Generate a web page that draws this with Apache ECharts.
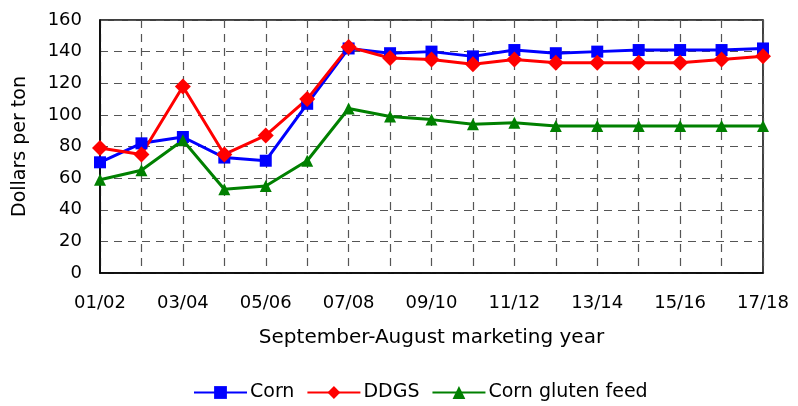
<!DOCTYPE html>
<html>
<head>
<meta charset="utf-8">
<script src="https://cdn.jsdelivr.net/npm/echarts@6/dist/echarts.min.js"></script>
<style>
  html, body { margin: 0; padding: 0; background: #fff; }
  #chart { width: 798px; height: 406px; }
</style>
</head>
<body>
<div id="chart"></div>
<script>
// marketing years
var years = ['01/02','02/03','03/04','04/05','05/06','06/07','07/08','08/09','09/10',
             '10/11','11/12','12/13','13/14','14/15','15/16','16/17','17/18'];
var corn = [70, 82, 86, 73, 71, 107, 142, 139, 140, 137, 141, 139, 140, 141, 141, 141, 142];
var ddgs = [79, 75, 118, 75, 87, 110, 143, 136, 135, 132, 135, 133, 133, 133, 133, 135, 137];
var glutenFeed = [59, 65, 84, 53, 55, 71, 104, 99, 97, 94, 95, 93, 93, 93, 93, 93, 93];

var font = 'DejaVu Sans, Liberation Sans, sans-serif';
var chart = echarts.init(document.getElementById('chart'));

var option = {
    animation: false,
    textStyle: { fontFamily: font },
    grid: {
        left: 100, right: 35, top: 20, bottom: 133,
        show: true, borderColor: '#000', borderWidth: 1.5
    },
    legend: {
        left: 193,
        top: 383,
        padding: 0,
        itemWidth: 53,
        itemHeight: 16,
        itemGap: 12,
        textStyle: { fontFamily: font, fontSize: 19, color: '#000', padding: [0, 0, 0, -2] },
        data: ['Corn', 'DDGS', 'Corn gluten feed']
    },
    xAxis: {
        type: 'category',
        data: years,
        boundaryGap: false,
        name: 'September-August marketing year',
        nameLocation: 'middle',
        nameGap: 55,
        nameTextStyle: { fontFamily: font, fontSize: 20, color: '#000' },
        axisLine: { lineStyle: { color: '#000', width: 1.5 } },
        axisTick: { show: false },
        axisLabel: { interval: 1, fontSize: 18, color: '#000', margin: 21 },
        splitLine: { show: true, interval: 0, lineStyle: { color: '#555', type: [8, 6], width: 1.2 } }
    },
    yAxis: {
        type: 'value',
        min: 0, max: 160, interval: 20,
        name: 'Dollars per ton',
        nameLocation: 'middle',
        nameGap: 70,
        nameTextStyle: { fontFamily: font, fontSize: 19, color: '#000' },
        axisLine: { show: true, lineStyle: { color: '#000', width: 1.5 } },
        axisTick: { show: false },
        axisLabel: { fontSize: 18, color: '#000', margin: 18 },
        splitLine: { show: true, lineStyle: { color: '#555', type: [8, 6], width: 1.2 } }
    },
    series: [
        {
            name: 'Corn', type: 'line', data: corn,
            color: '#0000ff',
            lineStyle: { width: 3 },
            symbol: 'rect', symbolSize: 12
        },
        {
            name: 'DDGS', type: 'line', data: ddgs,
            color: '#ff0000',
            lineStyle: { width: 3 },
            symbol: 'diamond', symbolSize: 16
        },
        {
            name: 'Corn gluten feed', type: 'line', data: glutenFeed,
            color: '#008000',
            lineStyle: { width: 3 },
            symbol: 'triangle', symbolSize: 12
        }
    ]
};

chart.setOption(option);
</script>
</body>
</html>
